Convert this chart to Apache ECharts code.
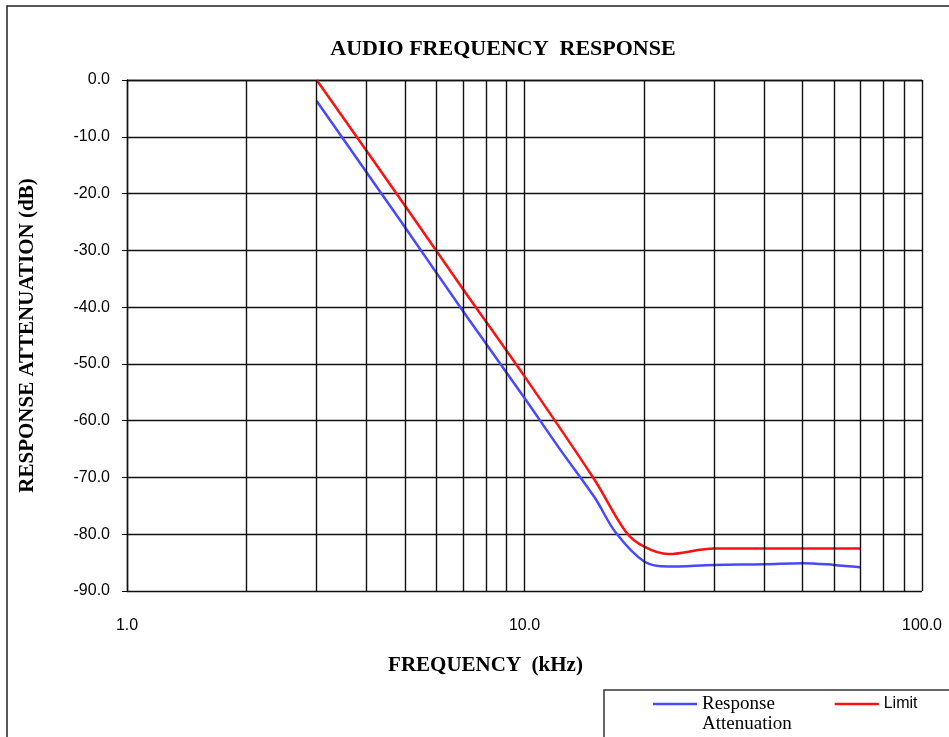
<!DOCTYPE html>
<html>
<head>
<meta charset="utf-8">
<script src="https://cdn.jsdelivr.net/npm/echarts@6/dist/echarts.min.js"></script>
<style>html,body{margin:0;padding:0;background:#fff;}#c{width:949px;height:737px;}</style>
</head>
<body>
<div id="c"></div>
<script>
// Frequencies in kHz
var responseFreq = [3, 5, 7, 10, 12.3, 15, 17, 20, 23, 30, 40, 50, 60, 70];
var responseDb   = [-3.7, -25.9, -40.7, -56.0, -65.1, -73.5, -79.8, -84.8, -85.7, -85.4, -85.3, -85.1, -85.4, -85.8];
var limitFreq = [3, 5, 7, 10, 15, 18, 20, 23, 30, 50, 70];
var limitDb   = [0, -22.1, -36.8, -52.2, -70.4, -79.6, -82.2, -83.5, -82.5, -82.5, -82.5];
var minorGridFreq = [2, 3, 4, 5, 6, 7, 8, 9, 20, 30, 40, 50, 60, 70, 80, 90];

function zip(a, b) { return a.map(function (v, i) { return [v, b[i]]; }); }

var serif = "'Liberation Serif', 'Times New Roman', serif";
var sans = "'Liberation Sans', Arial, sans-serif";
var gridLine = { color: '#111', width: 1.4 };

var chart = echarts.init(document.getElementById('c'));
chart.setOption({
  animation: false,
  backgroundColor: '#fff',
  title: {
    text: 'AUDIO FREQUENCY  RESPONSE',
    left: 498, textAlign: 'center', top: 33,
    textStyle: { fontFamily: serif, fontSize: 22, fontWeight: 'bold', color: '#000' }
  },
  graphic: [
    { type: 'rect', shape: { x: 7, y: 6, width: 1000, height: 800 }, style: { fill: 'none', stroke: '#222', lineWidth: 1.5 }, silent: true, z: -1 },
    { type: 'rect', shape: { x: 604, y: 690, width: 400, height: 100 }, style: { fill: 'none', stroke: '#333', lineWidth: 1.5 }, silent: true, z: -1 }
  ],
  legend: {
    left: 653, top: 674, padding: 0,
    icon: 'rect', itemWidth: 44, itemHeight: 2.5, itemGap: 43,
    data: ['Response Attenuation', 'Limit'],
    formatter: function (name) {
      return name === 'Limit' ? '{l|Limit}' : '\nResponse\nAttenuation';
    },
    textStyle: {
      fontFamily: serif, fontSize: 19, lineHeight: 20, color: '#000',
      rich: { l: { fontFamily: sans, fontSize: 16, lineHeight: 20, color: '#000' } }
    }
  },
  grid: { left: 127, right: 27, top: 80, bottom: 146, containLabel: false },
  xAxis: {
    type: 'log', logBase: 10, min: 1, max: 100,
    name: 'FREQUENCY  (kHz)', nameLocation: 'middle', nameGap: 64,
    nameTextStyle: { fontFamily: serif, fontSize: 21, fontWeight: 'bold', color: '#000', padding: [0, 78, 0, 0] },
    axisLine: { lineStyle: gridLine },
    axisTick: { show: true, length: 4, lineStyle: { color: '#000' } },
    axisLabel: { margin: 27, fontFamily: sans, fontSize: 16, color: '#000',
      formatter: function (v) { return Number(v).toFixed(1); } },
    splitLine: { show: true, lineStyle: gridLine },
    minorTick: { show: false }, minorSplitLine: { show: false }
  },
  yAxis: {
    type: 'value', min: -90, max: 0, interval: 10,
    name: 'RESPONSE ATTENUATION (dB)', nameLocation: 'middle', nameGap: 89,
    nameTextStyle: { fontFamily: serif, fontSize: 21, fontWeight: 'bold', color: '#000' },
    axisLine: { show: true, lineStyle: gridLine },
    axisTick: { show: true, length: 5, lineStyle: { color: '#000' } },
    axisLabel: { margin: 17, fontFamily: sans, fontSize: 16, color: '#000',
      formatter: function (v) { return Number(v).toFixed(1); } },
    splitLine: { show: true, lineStyle: gridLine }
  },
  series: [
    {
      name: 'Response Attenuation', type: 'line', data: zip(responseFreq, responseDb),
      smooth: 0.35, symbol: 'none', lineStyle: { color: '#4848ff', width: 2.5 }, itemStyle: { color: '#4848ff' }, z: 3
    },
    {
      name: 'Limit', type: 'line', data: zip(limitFreq, limitDb),
      smooth: 0.35, symbol: 'none', lineStyle: { color: '#ff1010', width: 2.5 }, itemStyle: { color: '#ff1010' }, z: 4
    },
    {
      name: 'grid', type: 'line', data: [], silent: true,
      markLine: {
        silent: true, symbol: ['none', 'none'], label: { show: false },
        lineStyle: { color: '#111', width: 1.4, type: 'solid' },
        data: minorGridFreq.map(function (f) { return { xAxis: f }; })
      },
      z: 1
    }
  ]
});
</script>
</body>
</html>
